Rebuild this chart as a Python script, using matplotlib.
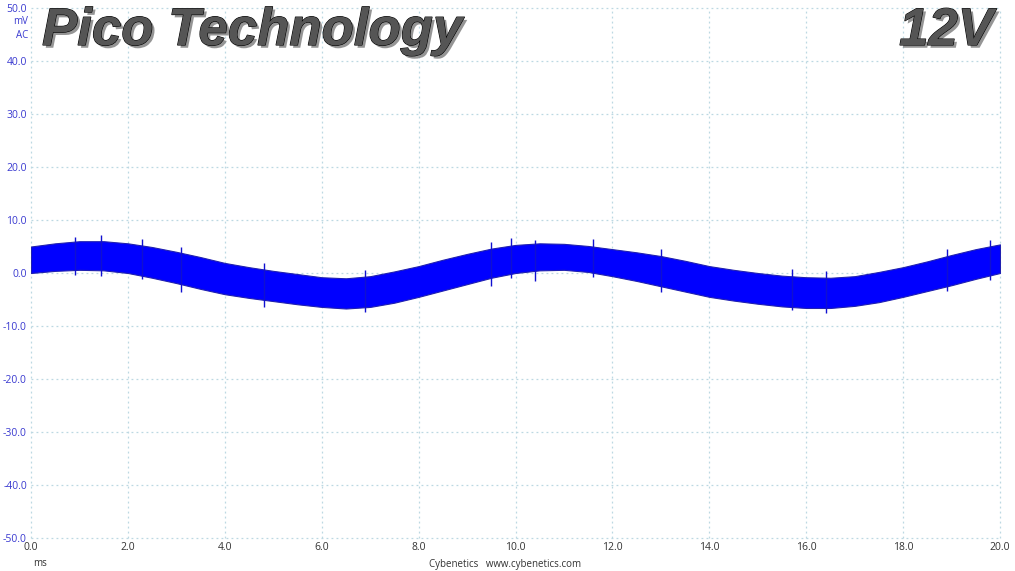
import numpy as np
import matplotlib
matplotlib.use("Agg")
import matplotlib.pyplot as plt
import matplotlib.patheffects as pe

# ripple envelope (ms, mV)
t_ms = [0.0, 0.5, 1.0, 1.5, 2.0, 2.5, 3.0, 3.5, 4.0, 4.5, 5.0, 5.5, 6.0, 6.5,
        7.0, 7.5, 8.0, 8.5, 9.0, 9.5, 10.0, 10.5, 11.0, 11.5, 12.0, 12.5,
        13.0, 13.5, 14.0, 14.5, 15.0, 15.5, 16.0, 16.5, 17.0, 17.5, 18.0,
        18.5, 19.0, 19.5, 20.0]
upper_mv = [5.0, 5.6, 6.0, 6.0, 5.6, 4.9, 4.0, 3.0, 1.9, 1.1, 0.4, -0.2, -0.8, -1.0,
            -0.6, 0.3, 1.3, 2.5, 3.6, 4.6, 5.3, 5.6, 5.5, 5.1, 4.5, 3.9,
            3.2, 2.3, 1.3, 0.6, 0.0, -0.5, -0.8, -0.9, -0.6, 0.2, 1.1,
            2.2, 3.4, 4.5, 5.4]
lower_mv = [0.0, 0.4, 0.6, 0.5, 0.0, -0.9, -1.9, -3.0, -4.0, -4.7, -5.3, -5.9, -6.4, -6.7,
            -6.4, -5.6, -4.5, -3.3, -2.1, -0.9, 0.0, 0.5, 0.6, 0.2, -0.6, -1.5,
            -2.5, -3.5, -4.5, -5.2, -5.8, -6.3, -6.6, -6.6, -6.2, -5.5, -4.5,
            -3.4, -2.3, -1.1, 0.0]

# a few of the taller noise spikes (ms, top mV / bottom mV)
spike_t = [0.9, 1.45, 2.3, 3.1, 4.8, 6.9, 9.5, 9.9, 10.4, 11.6, 13.0, 15.7, 16.4, 18.9, 19.8]
spike_top = [6.8, 7.2, 6.4, 5.0, 1.8, 0.6, 5.8, 6.6, 6.2, 6.4, 4.6, 0.8, 0.4, 4.6, 6.3]
spike_bot = [-0.4, -0.6, -1.2, -3.5, -6.4, -7.4, -2.4, -1.0, -1.6, -0.7, -3.6, -7.0, -7.6, -3.4, -1.3]

x_ticks = np.arange(0, 21, 2)
y_ticks = np.arange(-50, 51, 10)

fig = plt.figure(figsize=(10.15, 5.71), dpi=100)
ax = fig.add_axes([31 / 1015, 1 - 538 / 571, 969 / 1015, 530 / 571])

ax.fill_between(t_ms, lower_mv, upper_mv, color="#0000ff", linewidth=0.8,
                edgecolor="#2020b0", zorder=3)
ax.vlines(spike_t, spike_bot, spike_top, color="#1010d0", linewidth=1.0, zorder=3)

ax.set_xlim(0, 20)
ax.set_ylim(-50, 50)
ax.set_xticks(x_ticks)
ax.set_yticks(y_ticks)
ax.set_xticklabels([f"{v:.1f}" for v in x_ticks], color="#333333",
                   fontsize=7.5, family="Open Sans")
ax.set_yticklabels([f"{v:.1f}" for v in y_ticks], color="#3a3ad0",
                   fontsize=7.5, family="Open Sans")
ax.tick_params(length=0, pad=3)
for s in ax.spines.values():
    s.set_visible(False)
ax.grid(True, color="#bcd8e2", linestyle=(0, (1.5, 2.5)), linewidth=0.9, clip_on=False)
ax.set_axisbelow(True)

fig.text(28 / 1015, 1 - 22 / 571, "mV", ha="right", va="center", color="#3a3ad0",
         fontsize=7, family="Open Sans")
fig.text(28 / 1015, 1 - 36 / 571, "AC", ha="right", va="center", color="#3a3ad0",
         fontsize=7, family="Open Sans")
fig.text(33 / 1015, 1 - 564 / 571, "ms", ha="left", va="center", color="#333333",
         fontsize=7, family="Open Sans")
fig.text(505 / 1015, 1 - 564 / 571, "Cybenetics   www.cybenetics.com", ha="center",
         va="center", color="#333333", fontsize=7, family="Open Sans")

shadow = [pe.SimplePatchShadow(offset=(2, -2), shadow_rgbFace="#8a8a8a", alpha=0.9),
          pe.Stroke(linewidth=0.8, foreground="#000000"), pe.Normal()]
fig.text(42 / 1015, 1 - 31 / 571, "Pico Technology", ha="left", va="center",
         fontsize=38, fontweight="bold", style="italic", family="Liberation Sans",
         color="#555555", path_effects=shadow)
fig.text(993 / 1015, 1 - 31 / 571, "12V", ha="right", va="center",
         fontsize=38, fontweight="bold", style="italic", family="Liberation Sans",
         color="#555555", path_effects=shadow)

fig.savefig("out.png", dpi=100, facecolor="white")
